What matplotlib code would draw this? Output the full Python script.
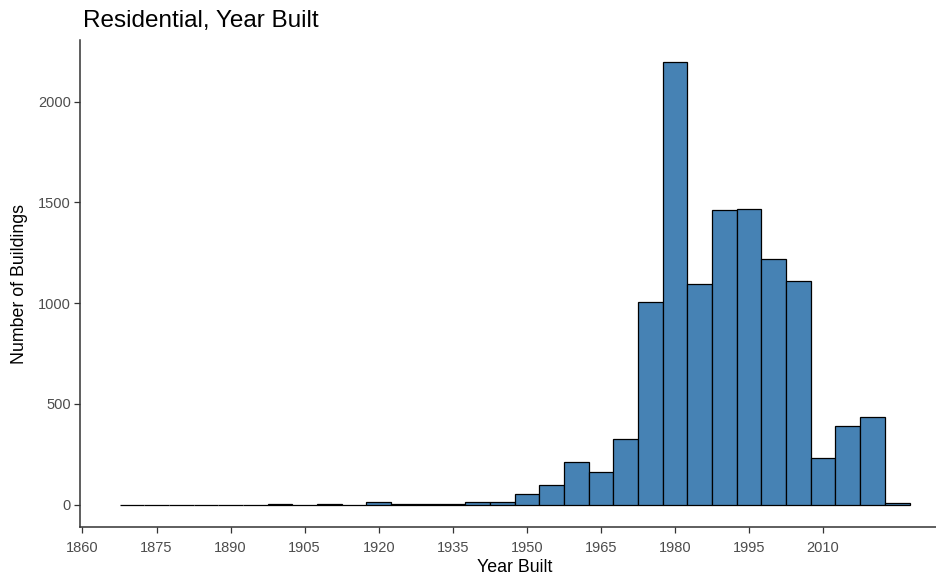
import matplotlib.pyplot as plt

plt.rcParams['font.family'] = ['Liberation Sans', 'DejaVu Sans']

# bin centres (5-year bins) and building counts
year_bins = [1870, 1875, 1880, 1885, 1890, 1895, 1900, 1905, 1910, 1915,
             1920, 1925, 1930, 1935, 1940, 1945, 1950, 1955, 1960, 1965,
             1970, 1975, 1980, 1985, 1990, 1995, 2000, 2005, 2010, 2015,
             2020, 2025]
counts = [0, 0, 0, 0, 0, 0, 5, 0, 4, 0,
          12, 3, 3, 3, 14, 15, 54, 96, 213, 165,
          327, 1006, 2195, 1094, 1463, 1469, 1218, 1109, 233, 390,
          437, 8]
x_ticks = [1860, 1875, 1890, 1905, 1920, 1935, 1950, 1965, 1980, 1995, 2010]
y_ticks = [0, 500, 1000, 1500, 2000]

W, H = 936, 581
fig = plt.figure(figsize=(W / 100, H / 100), dpi=100)
# panel runs past the right edge, as in the cropped original
ax = fig.add_axes([80 / W, (H - 527) / H, (949 - 80) / W, (527 - 40) / H])

ax.bar(year_bins, counts, width=5, color='#4682B4', edgecolor='black',
       linewidth=0.9, zorder=2)

ax.set_xlim(1859.5, 2035.5)
ax.set_ylim(-110, 2305)
ax.set_xticks(x_ticks)
ax.set_yticks(y_ticks)

for side in ['top', 'right']:
    ax.spines[side].set_visible(False)
for side in ['left', 'bottom']:
    ax.spines[side].set_color('#333333')
    ax.spines[side].set_linewidth(1.1)

ax.tick_params(axis='both', length=4, width=0.9, color='#333333',
               labelsize=10.5, labelcolor='#4D4D4D')
ax.tick_params(axis='x', pad=6)
ax.tick_params(axis='y', pad=2.5)

ax.set_xlabel('Year Built', fontsize=12.8, color='black', labelpad=3)
ax.set_ylabel('Number of Buildings', fontsize=12.8, color='black', labelpad=7)
fig.text(83 / W, 1 - 27 / H, 'Residential, Year Built', fontsize=17.5,
         color='black', ha='left', va='baseline')

fig.savefig('out.png', dpi=100)
